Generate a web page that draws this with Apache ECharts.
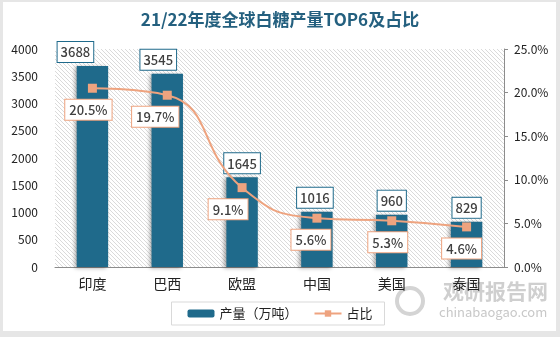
<!DOCTYPE html>
<html>
<head>
<meta charset="utf-8">
<script src="https://cdn.jsdelivr.net/npm/echarts@6/dist/echarts.min.js"></script>
<style>
html,body{margin:0;padding:0;background:#e6e6e6;}
#main{width:560px;height:337px;}
</style>
</head>
<body>
<div id="main"></div>
<script>
const categories = ['印度', '巴西', '欧盟', '中国', '美国', '泰国'];
const production = [3688, 3545, 1645, 1016, 960, 829];
const share = [20.5, 19.7, 9.1, 5.6, 5.3, 4.6];
const leftTicks = {min: 0, max: 4000, interval: 500};
const rightTicks = {min: 0, max: 25, interval: 5};

// label nudges (style only)
const barLabelShiftX = [-17, -9, 0, -2, 0, 0];
const pctLabelShiftX = [-4, -12, -14, -6, -4, -5];

const pc = document.createElement('canvas');
pc.width = 4; pc.height = 4;
const pctx = pc.getContext('2d');
pctx.fillStyle = '#ffffff'; pctx.fillRect(0,0,4,4);
pctx.fillStyle = '#dadada';
for (let i = 0; i < 4; i++) pctx.fillRect(i, i, 1, 1);

const barColor = '#1f6a8b';
const lineColor = '#eea37f';
const textColor = '#404040';
const font = "'Noto Sans CJK SC', 'Noto Sans', sans-serif";

const chart = echarts.init(document.getElementById('main'), null, {renderer: 'canvas'});
chart.setOption({
  backgroundColor: '#e6e6e6',
  animation: false,
  textStyle: {fontFamily: font},
  title: {
    text: '21/22年度全球白糖产量TOP6及占比',
    left: 'center', top: 6,
    textStyle: {fontSize: 17, fontWeight: 'bold', color: '#24607f', fontFamily: font}
  },
  graphic: [
    {type: 'rect', z: -10, silent: true, shape: {x: 3, y: 2, width: 553, height: 329}, style: {fill: '#ffffff'}},
    {type: 'circle', z: -5, shape: {cx: 410, cy: 301, r: 13}, style: {fill: 'none', stroke: '#d4d4d4', lineWidth: 4}},
    {type: 'text', z: -5, left: 443, top: 281, style: {text: '观研报告网', fontSize: 21, fontWeight: 'bold', fill: '#cfcfcf', fontFamily: font}},
    {type: 'text', z: -5, left: 439, top: 306, style: {text: 'chinabaogao.com', fontSize: 13, fill: '#c8c8c8', fontFamily: font}}
  ],
  legend: {
    left: 'center', top: 302,
    data: ['产量（万吨）', '占比'],
    itemWidth: 27, itemHeight: 8, itemGap: 16,
    padding: [5, 12, 5, 16],
    borderColor: '#d9d9d9', borderWidth: 1,
    textStyle: {fontSize: 13, color: '#222', fontFamily: font}
  },
  grid: {
    left: 55, right: 56, top: 49, bottom: 70,
    show: true,
    backgroundColor: {image: pc, repeat: 'repeat'},
    borderWidth: 0
  },
  xAxis: {
    type: 'category',
    data: categories,
    axisLine: {lineStyle: {color: '#8c8c8c', width: 1}},
    axisTick: {show: false},
    axisLabel: {fontSize: 14, color: '#222', margin: 10}
  },
  yAxis: [
    {
      type: 'value', min: leftTicks.min, max: leftTicks.max, interval: leftTicks.interval,
      axisLine: {show: false}, axisTick: {show: false}, splitLine: {show: false},
      axisLabel: {fontSize: 12, color: '#222', margin: 17, formatter: v => String(v)}
    },
    {
      type: 'value', min: rightTicks.min, max: rightTicks.max, interval: rightTicks.interval,
      position: 'right',
      axisLine: {show: true, lineStyle: {color: '#8c8c8c'}},
      axisTick: {show: true, length: 4, lineStyle: {color: '#8c8c8c'}},
      splitLine: {show: false},
      axisLabel: {fontSize: 12, color: '#222', margin: 10, formatter: v => v.toFixed(1) + '%'}
    }
  ],
  series: [
    {
      name: '产量（万吨）',
      type: 'bar',
      barWidth: '42%',
      itemStyle: {
        color: barColor,
        shadowColor: 'rgba(0,0,0,0.35)', shadowBlur: 4, shadowOffsetX: -2, shadowOffsetY: 1
      },
      label: {
        show: true, position: 'top', distance: 4,
        color: textColor, fontSize: 13, fontWeight: 500,
        backgroundColor: '#ffffff', borderColor: barColor, borderWidth: 1,
        padding: [4, 3, 3, 3]
      },
      data: production.map((v, i) => ({value: v, label: {offset: [barLabelShiftX[i], 0]}}))
    },
    {
      name: '占比',
      type: 'line',
      yAxisIndex: 1,
      smooth: 0.5,
      symbol: 'rect', symbolSize: 9,
      lineStyle: {color: lineColor, width: 2},
      itemStyle: {color: lineColor},
      label: {
        show: true, position: 'bottom', distance: 7,
        color: textColor, fontSize: 13, fontWeight: 500,
        backgroundColor: '#ffffff', borderColor: lineColor, borderWidth: 1,
        padding: [4, 4, 3, 4],
        formatter: p => p.value.toFixed(1) + '%'
      },
      data: share.map((v, i) => ({value: v, label: {offset: [pctLabelShiftX[i], 0]}}))
    }
  ]
});
</script>
</body>
</html>
